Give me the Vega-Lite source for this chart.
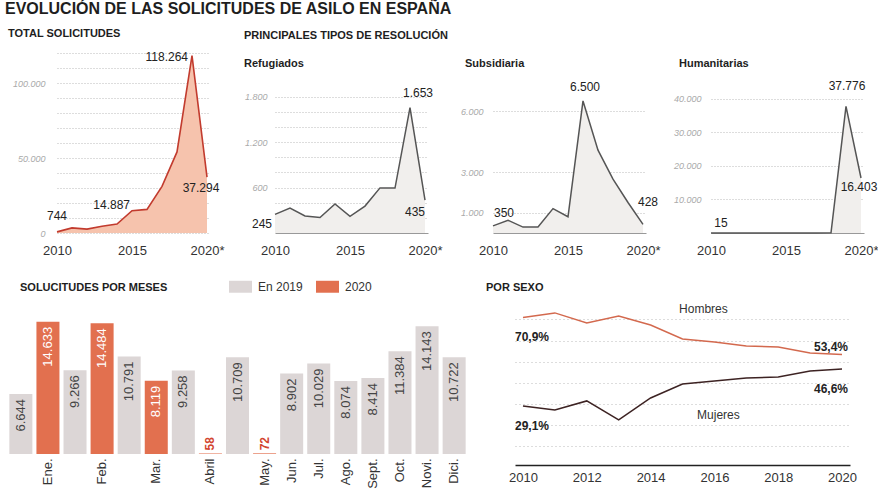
{
"$schema":"https://vega.github.io/schema/vega-lite/v6.json",
"padding":{"left":5,"top":0,"right":0,"bottom":0},
"title":{"text":"EVOLUCIÓN DE LAS SOLICITUDES DE ASILO EN ESPAÑA","anchor":"start","frame":"group","dx":-3,"offset":11,"fontSize":16,"fontWeight":"bold","color":"#1e1e1e"},
"config":{"font":"Liberation Sans","view":{"stroke":null},"locale":{"number":{"decimal":",","thousands":".","grouping":[3],"currency":["","\u00a0€"]}}},
"spacing":18,
"vconcat":[
{"spacing":65,"bounds":"flush","hconcat":[
{"width":202,"height":180,
"title":{"text":"TOTAL SOLICITUDES","anchor":"start","frame":"group","offset":12,"fontSize":11,"fontWeight":"bold","color":"#1e1e1e"},
"data":{"values":[{"year":2010,"v":744},{"year":2011,"v":3414},{"year":2012,"v":2588},{"year":2013,"v":4513},{"year":2014,"v":5947},{"year":2015,"v":14887},{"year":2016,"v":15755},{"year":2017,"v":31120},{"year":2018,"v":54065},{"year":2019,"v":118264},{"year":2020,"v":37294}]},
"encoding":{
"x":{"field":"year","type":"quantitative","title":null,"scale":{"domain":[2010,2020.2],"range":[49,202],"nice":false,"zero":false},"axis":{"values":[2010,2015,2020],"format":"d","labelExpr":"datum.value == 2020 ? '2020*' : datum.label","labelFlush":false,"grid":false,"ticks":false,"domain":false,"labelFontSize":13,"labelColor":"#333","labelPadding":11}},
"y":{"field":"v","type":"quantitative","title":null,"scale":{"domain":[0,120000],"nice":false},"axis":{"values":[0,10000,20000,30000,40000,50000,60000,70000,80000,90000,100000,110000,120000],"format":",d","labelExpr":"datum.value % 50000 == 0 ? datum.label : ''","grid":true,"gridDash":[1,2],"gridColor":"#bbb","ticks":false,"domain":false,"offset":-39,"labelPadding":2,"labelFontSize":9,"labelFontStyle":"italic","labelColor":"#aaa"}}},
"layer":[
{"mark":{"type":"area","color":"#f6c3ad"}},
{"mark":{"type":"line","color":"#c23b2e","strokeWidth":1.6}},
{"transform":[{"filter":"datum.year == 2010"}],"mark":{"type":"text","fontSize":12,"color":"#222","dy":-16},"encoding":{"text":{"field":"v","type":"quantitative","format":",d"}}},
{"transform":[{"filter":"datum.year == 2015"}],"mark":{"type":"text","fontSize":12,"color":"#222","align":"right","dx":-2,"dy":-6},"encoding":{"text":{"field":"v","type":"quantitative","format":",d"}}},
{"transform":[{"filter":"datum.year == 2019"}],"mark":{"type":"text","fontSize":12,"color":"#222","align":"right","dx":-4,"dy":1},"encoding":{"text":{"field":"v","type":"quantitative","format":",d"}}},
{"transform":[{"filter":"datum.year == 2020"}],"mark":{"type":"text","fontSize":12,"color":"#222","dx":-6,"dy":11},"encoding":{"text":{"field":"v","type":"quantitative","format":",d"}}}
]},
{"width":153,"height":180,
"title":{"text":"PRINCIPALES TIPOS DE RESOLUCIÓN","subtitle":"Refugiados","anchor":"start","frame":"group","dx":-31,"dy":24,"offset":8,"fontSize":11,"fontWeight":"bold","color":"#1e1e1e","subtitleFontSize":11,"subtitleFontWeight":"bold","subtitleColor":"#1e1e1e","subtitlePadding":17},
"data":{"values":[{"year":2010,"v":245},{"year":2011,"v":330},{"year":2012,"v":225},{"year":2013,"v":205},{"year":2014,"v":384},{"year":2015,"v":220},{"year":2016,"v":355},{"year":2017,"v":595},{"year":2018,"v":592},{"year":2019,"v":1653},{"year":2020,"v":435}]},
"encoding":{
"x":{"field":"year","type":"quantitative","title":null,"scale":{"domain":[2010,2020.2],"nice":false,"zero":false},"axis":{"values":[2010,2015,2020],"format":"d","labelExpr":"datum.value == 2020 ? '2020*' : datum.label","labelFlush":false,"grid":false,"ticks":false,"domain":true,"domainColor":"#999","labelFontSize":13,"labelColor":"#333","labelPadding":11}},
"y":{"field":"v","type":"quantitative","title":null,"scale":{"domain":[0,2374],"nice":false},"axis":{"values":[200,400,600,800,1000,1200,1400,1600,1800],"format":",d","labelExpr":"datum.value % 600 == 0 ? datum.label : ''","grid":true,"gridDash":[1,2],"gridColor":"#bbb","ticks":false,"domain":false,"labelPadding":8,"labelFontSize":9,"labelFontStyle":"italic","labelColor":"#aaa"}}},
"layer":[
{"mark":{"type":"area","color":"#f1efed"}},
{"mark":{"type":"line","color":"#555","strokeWidth":1.5}},
{"transform":[{"filter":"datum.year == 2010"}],"mark":{"type":"text","fontSize":12,"color":"#222","align":"right","dx":-3,"dy":10},"encoding":{"text":{"field":"v","type":"quantitative","format":",d"}}},
{"transform":[{"filter":"datum.year == 2019"}],"mark":{"type":"text","fontSize":12,"color":"#222","dx":8,"dy":-15},"encoding":{"text":{"field":"v","type":"quantitative","format":",d"}}},
{"transform":[{"filter":"datum.year == 2020"}],"mark":{"type":"text","fontSize":12,"color":"#222","dx":-10,"dy":12},"encoding":{"text":{"field":"v","type":"quantitative","format":",d"}}}
]},
{"width":153,"height":180,
"title":{"text":"Subsidiaria","anchor":"start","frame":"group","dx":-28,"dy":24,"offset":8,"fontSize":11,"fontWeight":"bold","color":"#1e1e1e"},
"data":{"values":[{"year":2010,"v":350},{"year":2011,"v":630},{"year":2012,"v":290},{"year":2013,"v":300},{"year":2014,"v":1200},{"year":2015,"v":800},{"year":2016,"v":6500},{"year":2017,"v":4080},{"year":2018,"v":2650},{"year":2019,"v":1500},{"year":2020,"v":428}]},
"encoding":{
"x":{"field":"year","type":"quantitative","title":null,"scale":{"domain":[2010,2020.2],"nice":false,"zero":false},"axis":{"values":[2010,2015,2020],"format":"d","labelExpr":"datum.value == 2020 ? '2020*' : datum.label","labelFlush":false,"grid":false,"ticks":false,"domain":true,"domainColor":"#999","labelFontSize":13,"labelColor":"#333","labelPadding":11}},
"y":{"field":"v","type":"quantitative","title":null,"scale":{"domain":[0,8860],"nice":false},"axis":{"values":[1000,3000,6000],"format":",d","grid":true,"gridDash":[1,2],"gridColor":"#bbb","ticks":false,"domain":false,"labelPadding":10,"labelFontSize":9,"labelFontStyle":"italic","labelColor":"#aaa"}}},
"layer":[
{"mark":{"type":"area","color":"#f1efed"}},
{"mark":{"type":"line","color":"#555","strokeWidth":1.5}},
{"transform":[{"filter":"datum.year == 2010"}],"mark":{"type":"text","fontSize":12,"color":"#222","dx":11,"dy":-13},"encoding":{"text":{"field":"v","type":"quantitative","format":",d"}}},
{"transform":[{"filter":"datum.year == 2016"}],"mark":{"type":"text","fontSize":12,"color":"#222","dx":2,"dy":-14},"encoding":{"text":{"field":"v","type":"quantitative","format":",d"}}},
{"transform":[{"filter":"datum.year == 2020"}],"mark":{"type":"text","fontSize":12,"color":"#222","dx":5,"dy":-22},"encoding":{"text":{"field":"v","type":"quantitative","format":",d"}}}
]},
{"width":153,"height":180,
"title":{"text":"Humanitarias","anchor":"start","frame":"group","dx":-32,"dy":24,"offset":8,"fontSize":11,"fontWeight":"bold","color":"#1e1e1e"},
"data":{"values":[{"year":2010,"v":15},{"year":2011,"v":20},{"year":2012,"v":25},{"year":2013,"v":15},{"year":2014,"v":20},{"year":2015,"v":25},{"year":2016,"v":20},{"year":2017,"v":30},{"year":2018,"v":40},{"year":2019,"v":37776},{"year":2020,"v":16403}]},
"encoding":{
"x":{"field":"year","type":"quantitative","title":null,"scale":{"domain":[2010,2020.2],"nice":false,"zero":false},"axis":{"values":[2010,2015,2020],"format":"d","labelExpr":"datum.value == 2020 ? '2020*' : datum.label","labelFlush":false,"grid":false,"ticks":false,"domain":true,"domainColor":"#999","labelFontSize":13,"labelColor":"#333","labelPadding":11}},
"y":{"field":"v","type":"quantitative","title":null,"scale":{"domain":[0,53700],"nice":false},"axis":{"values":[10000,20000,30000,40000],"format":",d","grid":true,"gridDash":[1,2],"gridColor":"#bbb","ticks":false,"domain":false,"labelPadding":10,"labelFontSize":9,"labelFontStyle":"italic","labelColor":"#aaa"}}},
"layer":[
{"mark":{"type":"area","color":"#f1efed"}},
{"mark":{"type":"line","color":"#555","strokeWidth":1.5}},
{"transform":[{"filter":"datum.year == 2010"}],"mark":{"type":"text","fontSize":12,"color":"#222","dx":10,"dy":-10},"encoding":{"text":{"field":"v","type":"quantitative","format":",d"}}},
{"transform":[{"filter":"datum.year == 2019"}],"mark":{"type":"text","fontSize":12,"color":"#222","dx":1,"dy":-20},"encoding":{"text":{"field":"v","type":"quantitative","format":",d"}}},
{"transform":[{"filter":"datum.year == 2020"}],"mark":{"type":"text","fontSize":12,"color":"#222","dx":-2,"dy":9},"encoding":{"text":{"field":"v","type":"quantitative","format":",d"}}}
]}
]},
{"spacing":48,"bounds":"flush","resolve":{"scale":{"color":"independent"},"legend":{"color":"independent"}},"hconcat":[
{"width":459,"height":154,
"title":{"text":"SOLUCITUDES POR MESES","anchor":"start","frame":"group","dx":12,"dy":24,"offset":6,"fontSize":11,"fontWeight":"bold","color":"#1e1e1e"},
"data":{"values":[{"mes":"Ene.","yr":"2019","v":6644},{"mes":"Ene.","yr":"2020","v":14633},{"mes":"Feb.","yr":"2019","v":9266},{"mes":"Feb.","yr":"2020","v":14484},{"mes":"Mar.","yr":"2019","v":10791},{"mes":"Mar.","yr":"2020","v":8119},{"mes":"Abril","yr":"2019","v":9258},{"mes":"Abril","yr":"2020","v":58},{"mes":"May.","yr":"2019","v":10709},{"mes":"May.","yr":"2020","v":72},{"mes":"Jun.","yr":"2019","v":8902},{"mes":"Jul.","yr":"2019","v":10029},{"mes":"Ago.","yr":"2019","v":8074},{"mes":"Sept.","yr":"2019","v":8414},{"mes":"Oct.","yr":"2019","v":11384},{"mes":"Novi.","yr":"2019","v":14143},{"mes":"Dici.","yr":"2019","v":10722}]},
"transform":[{"calculate":"datum.mes + ' ' + datum.yr","as":"slot"}],
"encoding":{
"x":{"field":"slot","type":"nominal","title":null,"sort":["Ene. 2019","Ene. 2020","Feb. 2019","Feb. 2020","Mar. 2019","Mar. 2020","Abril 2019","Abril 2020","May. 2019","May. 2020","Jun. 2019","Jul. 2019","Ago. 2019","Sept. 2019","Oct. 2019","Novi. 2019","Dici. 2019"],"scale":{"paddingInner":0.15,"paddingOuter":0.05},"axis":{"labelAngle":270,"labelFontSize":13,"labelColor":"#333","ticks":false,"domain":false,"labelPadding":4,"labelExpr":"indexof(['Ene. 2019','Feb. 2019','Mar. 2019','Abril 2019','May. 2019'], datum.value) >= 0 ? '' : split(datum.value, ' ')[0]"}},
"y":{"field":"v","type":"quantitative","title":null,"scale":{"domain":[0,17055],"nice":false},"axis":null}},
"layer":[
{"mark":{"type":"bar"},"encoding":{"color":{"field":"yr","type":"nominal","scale":{"domain":["2019","2020"],"range":["#dcd6d6","#e2704f"]},"legend":{"title":null,"orient":"none","legendX":221,"legendY":-25,"direction":"horizontal","symbolType":"M-1,-0.52H1V0.52H-1Z","symbolSize":529,"symbolStrokeWidth":0,"labelFontSize":12,"labelColor":"#333","labelOffset":6,"columnPadding":13,"labelExpr":"datum.label == '2019' ? 'En 2019' : datum.label"}}}},
{"transform":[{"filter":"datum.v >= 1000"}],"mark":{"type":"text","angle":270,"align":"right","baseline":"middle","dx":-5,"fontSize":13},"encoding":{"text":{"field":"v","type":"quantitative","format":",d"},"color":{"condition":{"test":"datum.yr == '2020'","value":"#ffffff"},"value":"#444"}}},
{"transform":[{"filter":"datum.v < 1000"}],"mark":{"type":"text","angle":270,"align":"left","baseline":"middle","dx":3,"fontSize":12,"fontWeight":"bold","color":"#d2452f"},"encoding":{"text":{"field":"v","type":"quantitative","format":",d"}}}
]},
{"width":335,"height":165,
"title":{"text":"POR SEXO","anchor":"start","frame":"group","dx":-29,"offset":7,"fontSize":11,"fontWeight":"bold","color":"#1e1e1e"},
"data":{"values":[{"year":2010,"sexo":"Hombres","pct":70.9},{"year":2011,"sexo":"Hombres","pct":73.1},{"year":2012,"sexo":"Hombres","pct":68.3},{"year":2013,"sexo":"Hombres","pct":71.6},{"year":2014,"sexo":"Hombres","pct":67.4},{"year":2015,"sexo":"Hombres","pct":60.8},{"year":2016,"sexo":"Hombres","pct":59.4},{"year":2017,"sexo":"Hombres","pct":57.5},{"year":2018,"sexo":"Hombres","pct":57.0},{"year":2019,"sexo":"Hombres","pct":54.2},{"year":2020,"sexo":"Hombres","pct":53.4},
{"year":2010,"sexo":"Mujeres","pct":29.1},{"year":2011,"sexo":"Mujeres","pct":27.2},{"year":2012,"sexo":"Mujeres","pct":31.5},{"year":2013,"sexo":"Mujeres","pct":22.5},{"year":2014,"sexo":"Mujeres","pct":32.9},{"year":2015,"sexo":"Mujeres","pct":39.5},{"year":2016,"sexo":"Mujeres","pct":40.9},{"year":2017,"sexo":"Mujeres","pct":42.3},{"year":2018,"sexo":"Mujeres","pct":42.8},{"year":2019,"sexo":"Mujeres","pct":45.6},{"year":2020,"sexo":"Mujeres","pct":46.6}]},
"transform":[{"calculate":"replace(format(datum.pct, '.1f'), '.', ',') + '%'","as":"lbl"}],
"encoding":{
"x":{"field":"year","type":"quantitative","title":null,"scale":{"domain":[2009.75,2020.25],"nice":false,"zero":false},"axis":{"values":[2010,2012,2014,2016,2018,2020],"format":"d","labelFlush":false,"grid":false,"ticks":false,"domain":true,"domainColor":"#222","domainWidth":1.5,"labelFontSize":13,"labelColor":"#333","labelPadding":6}},
"y":{"field":"pct","type":"quantitative","title":null,"scale":{"domain":[1.2,79.2],"nice":false,"zero":false},"axis":{"values":[10,20,30,40,50,60,70],"labels":false,"ticks":false,"domain":false,"grid":true,"gridDash":[1,3],"gridColor":"#bbb"}}},
"layer":[
{"mark":{"type":"line","strokeWidth":1.5},"encoding":{"color":{"field":"sexo","type":"nominal","scale":{"domain":["Hombres","Mujeres"],"range":["#d3694e","#3d2323"]},"legend":null}}},
{"transform":[{"filter":"datum.year == 2010 && datum.sexo == 'Hombres'"}],"mark":{"type":"text","fontSize":12,"fontWeight":"bold","color":"#222","align":"left","dx":-8,"dy":19},"encoding":{"text":{"field":"lbl"}}},
{"transform":[{"filter":"datum.year == 2010 && datum.sexo == 'Mujeres'"}],"mark":{"type":"text","fontSize":12,"fontWeight":"bold","color":"#222","align":"left","dx":-8,"dy":20},"encoding":{"text":{"field":"lbl"}}},
{"transform":[{"filter":"datum.year == 2020 && datum.sexo == 'Hombres'"}],"mark":{"type":"text","fontSize":12,"fontWeight":"bold","color":"#222","align":"right","dx":6,"dy":-8},"encoding":{"text":{"field":"lbl"}}},
{"transform":[{"filter":"datum.year == 2020 && datum.sexo == 'Mujeres'"}],"mark":{"type":"text","fontSize":12,"fontWeight":"bold","color":"#222","align":"right","dx":6,"dy":20},"encoding":{"text":{"field":"lbl"}}},
{"transform":[{"filter":"datum.year == 2016 && datum.sexo == 'Hombres'"}],"mark":{"type":"text","fontSize":12,"color":"#333","dx":-11,"dy":-33},"encoding":{"text":{"field":"sexo"}}},
{"transform":[{"filter":"datum.year == 2016 && datum.sexo == 'Mujeres'"}],"mark":{"type":"text","fontSize":12,"color":"#333","dx":4,"dy":34},"encoding":{"text":{"field":"sexo"}}}
]}
]}
]
}
